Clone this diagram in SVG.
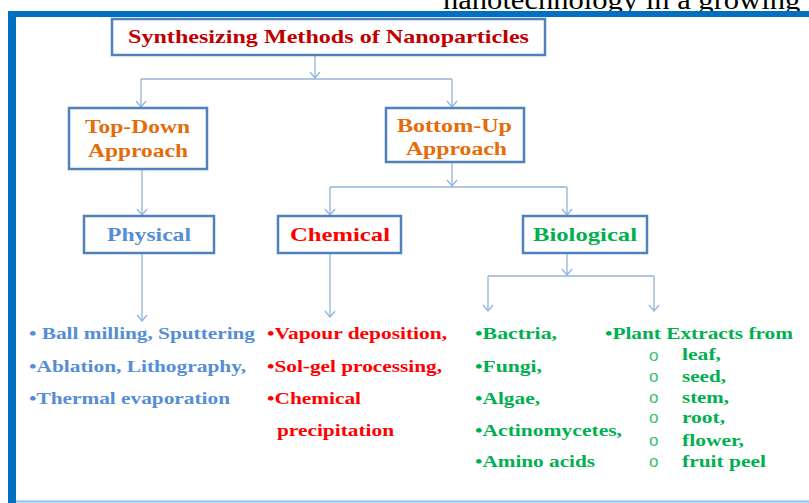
<svg xmlns="http://www.w3.org/2000/svg" width="809" height="503" viewBox="0 0 809 503">
<defs>
<marker id="arr" markerWidth="12" markerHeight="12" viewBox="0 0 12 12" refX="11" refY="6" orient="auto" markerUnits="userSpaceOnUse">
<path d="M5,1 L11,6 L5,11" fill="none" stroke="#8EB4E3" stroke-width="1.3"/>
</marker>
<style>
.box{fill:#fff;stroke:#4F81BD;stroke-width:2.5}
.t{font-family:"Liberation Serif","Times New Roman",serif;font-weight:bold}
.c{stroke:#95B3D7;stroke-width:1.3;fill:none}
.a{marker-end:url(#arr)}
.org{fill:#E46C0A;font-size:19px}
.blue{fill:#558ED5;font-size:16px}
.red{fill:#FF0000;font-size:16px}
.grn{fill:#00B050;font-size:16px}
.bul{font-family:"Liberation Sans",Arial,sans-serif;fill:#3CC070;font-size:17px}
</style>
</defs>
<rect width="809" height="503" fill="#fff"/>
<text x="443" y="9" font-family="Liberation Serif,Times New Roman,serif" font-size="28" fill="#000" textLength="375" lengthAdjust="spacingAndGlyphs">nanotechnology in a growing f</text>
<g id="frame">
<rect x="8" y="11" width="801" height="6" fill="#0070C0"/>
<rect x="8" y="11" width="8" height="492" fill="#0070C0"/>
<line x1="16" y1="501.5" x2="809" y2="501.5" stroke="#8DC3F0" stroke-width="2"/>
</g>
<g id="connectors">
<path class="c a" d="M315,55 V78"/>
<path class="c" d="M141,79 H452"/>
<path class="c a" d="M141,79 V107"/>
<path class="c a" d="M452,79 V107"/>
<path class="c a" d="M142,169 V215"/>
<path class="c a" d="M452,162 V186"/>
<path class="c" d="M330,187 H567"/>
<path class="c a" d="M330,187 V215"/>
<path class="c a" d="M567,187 V215"/>
<path class="c a" d="M142,253 V321"/>
<path class="c a" d="M330,253 V317"/>
<path class="c a" d="M567,253 V275"/>
<path class="c" d="M488,276 H654"/>
<path class="c a" d="M488,276 V311"/>
<path class="c a" d="M654,276 V311"/>
</g>
<g id="title">
<rect class="box" x="112" y="19" width="433" height="36"/>
<text class="t" x="128" y="43" fill="#C00000" font-size="19" textLength="401" lengthAdjust="spacingAndGlyphs">Synthesizing Methods of Nanoparticles</text>
</g>
<g id="topdown">
<rect class="box" x="69" y="108" width="138" height="61"/>
<text class="t org" x="85" y="133" textLength="105" lengthAdjust="spacingAndGlyphs">Top-Down</text>
<text class="t org" x="88" y="157" textLength="100" lengthAdjust="spacingAndGlyphs">Approach</text>
</g>
<g id="bottomup">
<rect class="box" x="386" y="108" width="138" height="54"/>
<text class="t org" x="397" y="132" textLength="115" lengthAdjust="spacingAndGlyphs">Bottom-Up</text>
<text class="t org" x="406" y="155" textLength="101" lengthAdjust="spacingAndGlyphs">Approach</text>
</g>
<g id="physical">
<rect class="box" x="84" y="216" width="130" height="37"/>
<text class="t" x="107" y="241" fill="#558ED5" font-size="19" textLength="84" lengthAdjust="spacingAndGlyphs">Physical</text>
</g>
<g id="chemical">
<rect class="box" x="278" y="216" width="123" height="37"/>
<text class="t" x="290" y="241" fill="#FF0000" font-size="19" textLength="100" lengthAdjust="spacingAndGlyphs">Chemical</text>
</g>
<g id="biological">
<rect class="box" x="523" y="216" width="124" height="37"/>
<text class="t" x="533" y="241" fill="#00B050" font-size="19" textLength="104" lengthAdjust="spacingAndGlyphs">Biological</text>
</g>
<g id="physical-list">
<text class="t blue" x="29" y="339" textLength="226" lengthAdjust="spacingAndGlyphs">• Ball milling, Sputtering</text>
<text class="t blue" x="29" y="372" textLength="217" lengthAdjust="spacingAndGlyphs">•Ablation, Lithography,</text>
<text class="t blue" x="29" y="404" textLength="201" lengthAdjust="spacingAndGlyphs">•Thermal evaporation</text>
</g>
<g id="chemical-list">
<text class="t red" x="267" y="339" textLength="180" lengthAdjust="spacingAndGlyphs">•Vapour deposition,</text>
<text class="t red" x="267" y="372" textLength="175" lengthAdjust="spacingAndGlyphs">•Sol-gel processing,</text>
<text class="t red" x="267" y="404" textLength="94" lengthAdjust="spacingAndGlyphs">•Chemical</text>
<text class="t red" x="277" y="436" textLength="117" lengthAdjust="spacingAndGlyphs">precipitation</text>
</g>
<g id="biological-list1">
<text class="t grn" x="475" y="339" textLength="82" lengthAdjust="spacingAndGlyphs">•Bactria,</text>
<text class="t grn" x="475" y="372" textLength="67" lengthAdjust="spacingAndGlyphs">•Fungi,</text>
<text class="t grn" x="475" y="404" textLength="65" lengthAdjust="spacingAndGlyphs">•Algae,</text>
<text class="t grn" x="475" y="436" textLength="147" lengthAdjust="spacingAndGlyphs">•Actinomycetes,</text>
<text class="t grn" x="475" y="467" textLength="120" lengthAdjust="spacingAndGlyphs">•Amino acids</text>
</g>
<g id="biological-list2">
<text class="t grn" x="605" y="339" textLength="188" lengthAdjust="spacingAndGlyphs">•Plant Extracts from</text>
<text class="bul" x="649" y="361">o</text>
<text class="bul" x="649" y="382">o</text>
<text class="bul" x="649" y="403">o</text>
<text class="bul" x="649" y="423">o</text>
<text class="bul" x="649" y="446">o</text>
<text class="bul" x="649" y="467">o</text>
<text class="t grn" x="682" y="360" textLength="39" lengthAdjust="spacingAndGlyphs">leaf,</text>
<text class="t grn" x="682" y="382" textLength="44" lengthAdjust="spacingAndGlyphs">seed,</text>
<text class="t grn" x="682" y="403" textLength="47" lengthAdjust="spacingAndGlyphs">stem,</text>
<text class="t grn" x="682" y="423" textLength="43" lengthAdjust="spacingAndGlyphs">root,</text>
<text class="t grn" x="682" y="446" textLength="62" lengthAdjust="spacingAndGlyphs">flower,</text>
<text class="t grn" x="682" y="467" textLength="84" lengthAdjust="spacingAndGlyphs">fruit peel</text>
</g>
</svg>
